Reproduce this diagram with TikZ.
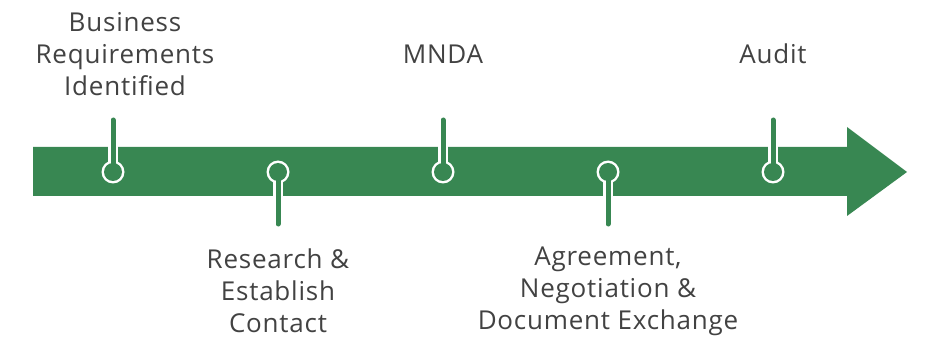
\documentclass[tikz,border=0pt]{standalone}
\usepackage{fontspec}
\setmainfont{Open Sans}[LetterSpace=3]
\usepackage{xcolor}
\usetikzlibrary{positioning}
\definecolor{bandgreen}{RGB}{56,135,82}
\definecolor{labelgray}{RGB}{66,66,66}

\begin{document}
\begin{tikzpicture}
            [x=1pt,y=-1pt,
             label text/.style={text=labelgray,align=center,inner sep=0pt,font=\fontsize{26}{32}\selectfont},
             stem out/.style={draw=white,line width=10pt,line cap=round},
             stem in/.style={draw=bandgreen,line width=5pt,line cap=round},
             pin ring/.style={circle,fill=white,minimum size=23pt,inner sep=0pt},
             pin dot/.style={circle,fill=bandgreen,minimum size=18pt,inner sep=0pt}]
            \useasboundingbox (0,0) rectangle (926,339);
            % timeline band with arrow head
            \fill[bandgreen] (33,147) -- (847,147) -- (847,127) -- (907,172)
                -- (847,216) -- (847,196) -- (33,196) -- cycle;
            % pins: name / x / end of stem
            \foreach \n/\x/\e in {p1/113/120, p2/278/224, p3/443/120, p4/608/224, p5/773/120} {
                \coordinate (\n) at (\x,172);
                \coordinate (\n end) at (\x,\e);
                \draw[stem out] (\n end) -- (\n);
                \node[pin ring] at (\n) {};
                \node[pin dot] at (\n) {};
                \draw[stem in] (\n end) -- (\n);
            }
            \node[label text] (req) at (125,54) {Business\\Requirements\\Identified};
            \node[label text] (research) at (278,291) {Research \&\\Establish\\Contact};
            \node[label text] (mnda) at (443,54) {MNDA};
            \node[label text] (agree) at (608,291) {Agreement,\\Negotiation \&\\Document Exchange};
            \node[label text] (audit) at (773,54) {Audit};
\end{tikzpicture}
\end{document}
